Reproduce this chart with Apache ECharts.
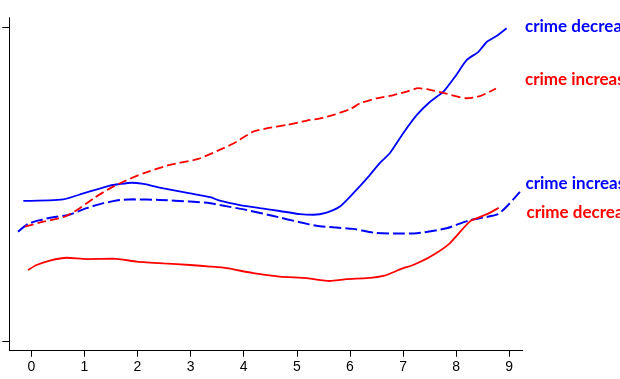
<!DOCTYPE html>
<html>
<head>
<meta charset="utf-8">
<script src="https://cdn.jsdelivr.net/npm/echarts@6/dist/echarts.min.js"></script>
<style>html,body{margin:0;padding:0;background:#fff;}#c{width:620px;height:379px;}</style>
</head>
<body>
<div id="c"></div>
<script>
// x tick labels
var xTicks = [0, 1, 2, 3, 4, 5, 6, 7, 8, 9];
var yTicks = [0, 100];

// Blue solid: "crime decrease"
var blueSolidX = [-0.15, 0.60, 0.98, 1.48, 1.67, 1.89, 2.11, 2.49, 2.99, 3.37, 3.55, 3.93, 4.31, 4.68, 5.06, 5.31, 5.56, 5.81, 6.06, 6.32, 6.57, 6.75, 7.00, 7.26, 7.51, 7.76, 7.98, 8.20, 8.42, 8.58, 8.76, 8.95];
var blueSolidY = [44.7, 45.2, 47.1, 49.6, 50.1, 50.5, 50.1, 48.7, 47.1, 45.9, 44.8, 43.4, 42.4, 41.5, 40.5, 40.3, 41.0, 42.9, 47.1, 51.9, 56.9, 59.9, 66.2, 72.1, 76.3, 79.5, 84.3, 89.6, 92.2, 95.4, 97.2, 99.7];

// Blue dashed: "crime increase"
var blueDashX = [-0.25, -0.06, 0.16, 0.41, 0.70, 1.04, 1.36, 1.67, 1.92, 2.42, 2.99, 3.37, 3.55, 4.06, 4.56, 5.06, 5.37, 5.69, 6.06, 6.44, 6.94, 7.26, 7.82, 8.26, 8.51, 8.79, 8.98, 9.20];
var blueDashY = [34.9, 37.4, 38.6, 39.5, 40.2, 42.4, 44.0, 45.0, 45.2, 45.0, 44.5, 44.0, 43.4, 41.8, 39.9, 37.9, 36.8, 36.3, 35.8, 34.6, 34.3, 34.4, 36.0, 38.6, 39.4, 40.5, 43.4, 47.6];

// Red dashed: "crime increase"
var redDashX = [-0.12, 0.23, 0.60, 0.86, 1.17, 1.48, 1.73, 2.11, 2.61, 3.05, 3.18, 3.62, 3.87, 4.18, 4.43, 4.81, 5.19, 5.44, 5.69, 6.00, 6.19, 6.50, 6.82, 7.07, 7.29, 7.45, 7.76, 8.20, 8.45, 8.75];
var redDashY = [36.5, 38.1, 39.5, 41.8, 45.5, 48.7, 50.8, 53.5, 56.2, 57.7, 58.3, 61.5, 63.6, 66.8, 67.8, 68.9, 70.3, 71.0, 72.1, 73.9, 75.8, 77.4, 78.4, 79.5, 80.6, 80.3, 79.1, 77.4, 78.1, 80.5];

// Red solid: "crime decrease"
var redSolidX = [-0.06, 0.10, 0.35, 0.67, 1.04, 1.54, 1.99, 2.49, 2.99, 3.37, 3.68, 4.18, 4.68, 5.19, 5.62, 5.94, 6.32, 6.63, 7.00, 7.19, 7.51, 7.88, 8.26, 8.58, 8.80];
var redSolidY = [22.7, 24.3, 25.7, 26.6, 26.2, 26.3, 25.4, 24.8, 24.3, 23.8, 23.3, 21.7, 20.6, 20.1, 19.2, 19.8, 20.1, 20.8, 23.3, 24.3, 26.9, 31.2, 38.2, 40.5, 42.5];

var labels = [
  {text: 'crime decrease', color: '#0000FF', x: 525, y: 26.5},
  {text: 'crime increase', color: '#FF0000', x: 525, y: 79.8},
  {text: 'crime increase', color: '#0000FF', x: 525.5, y: 183.1},
  {text: 'crime decrease', color: '#FF0000', x: 526.5, y: 212.1}
];

function pairs(xs, ys) { return xs.map(function (x, i) { return [x, ys[i]]; }); }

var chart = echarts.init(document.getElementById('c'), null, {renderer: 'canvas'});
var lw = 1.8;
chart.setOption({
  animation: false,
  backgroundColor: '#ffffff',
  grid: {left: 9.3, right: 97.3, top: 17.7, bottom: 28.7, containLabel: false},
  xAxis: {
    type: 'value', min: -0.414, max: 9.253,
    axisLine: {show: true, onZero: false, lineStyle: {color: '#000', width: 1}},
    axisTick: {show: true, length: 6.5, lineStyle: {color: '#000', width: 1}, customValues: xTicks},
    axisLabel: {show: true, customValues: xTicks, color: '#000', fontFamily: 'Liberation Sans, Arial', fontSize: 14, margin: 10},
    splitLine: {show: false}
  },
  yAxis: {
    type: 'value', min: -2.87, max: 103.06,
    axisLine: {show: true, onZero: false, lineStyle: {color: '#000', width: 1}},
    axisTick: {show: true, length: 7, lineStyle: {color: '#000', width: 1}, customValues: yTicks},
    axisLabel: {show: false},
    splitLine: {show: false}
  },
  series: [
    {type: 'line', data: pairs(blueSolidX, blueSolidY), showSymbol: false, smooth: 0.2, lineStyle: {color: '#0000FF', width: lw, type: 'solid'}},
    {type: 'line', data: pairs(blueDashX, blueDashY), showSymbol: false, smooth: 0.2, lineStyle: {color: '#0000FF', width: lw + 0.2, type: [12, 4]}},
    {type: 'line', data: pairs(redDashX, redDashY), showSymbol: false, smooth: 0.2, lineStyle: {color: '#FF0000', width: lw, type: [9, 4]}},
    {type: 'line', data: pairs(redSolidX, redSolidY), showSymbol: false, smooth: 0.2, lineStyle: {color: '#FF0000', width: lw, type: 'solid'}}
  ],
  graphic: labels.map(function (l) {
    return {type: 'text', x: l.x, y: l.y, style: {text: l.text, fill: l.color, font: 'bold 17px Lato', verticalAlign: 'middle', align: 'left'}};
  })
});
</script>
</body>
</html>
